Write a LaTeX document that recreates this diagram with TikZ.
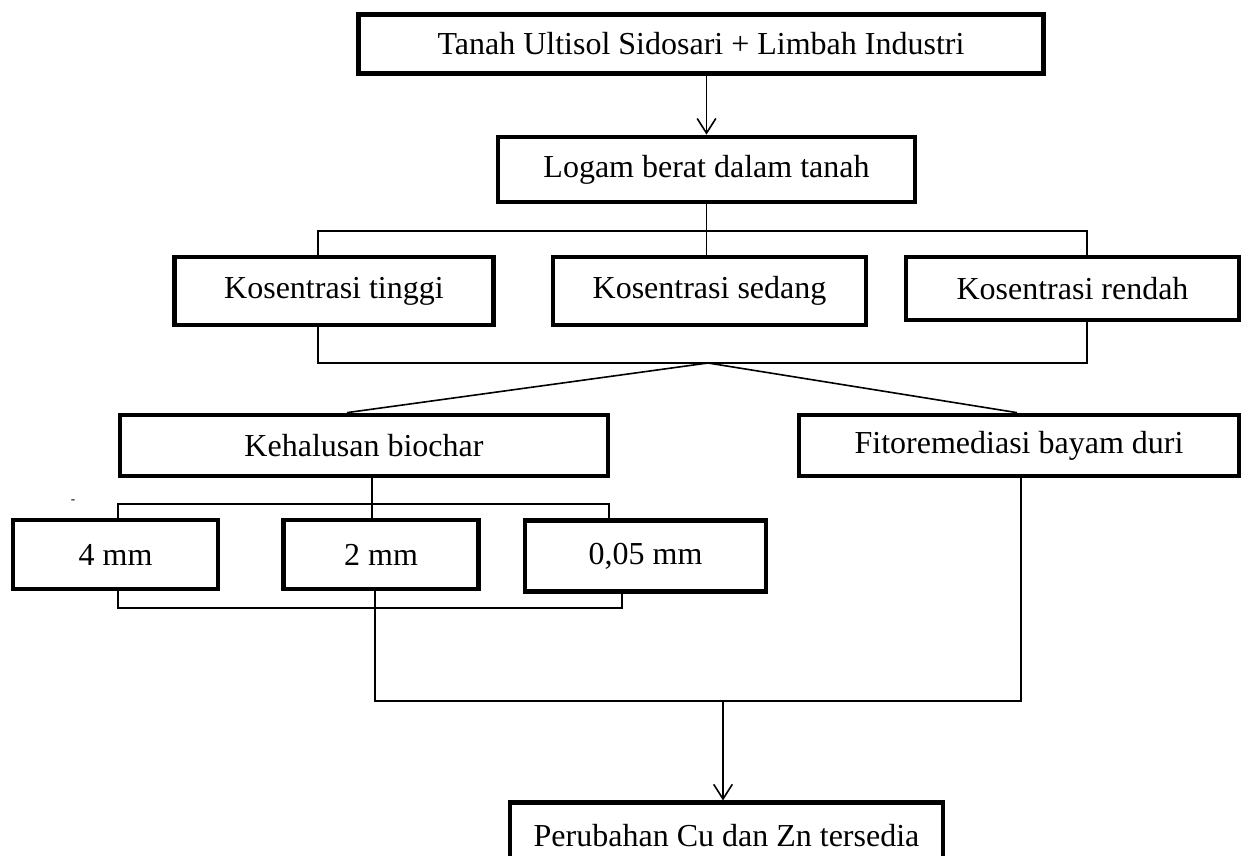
\documentclass[tikz,border=0pt]{standalone}
\usepackage{fontspec}
\setmainfont{Liberation Serif}
\usetikzlibrary{arrows.meta}

\begin{document}
\begin{tikzpicture}[x=0.75pt, y=-0.75pt,
  kotak/.style={draw, line width=3.3pt, inner sep=0pt, font=\fontsize{24}{29}\selectfont},
  garis/.style={line width=1.2pt},
  panah/.style={garis, -{Straight Barb[length=11pt, width=14pt]}}]
\useasboundingbox (0,0) rectangle (1242,856);
% kotak
\node [kotak, minimum width=514pt, minimum height=44pt] (tanah) at (701,44) {Tanah Ultisol Sidosari + Limbah Industri};
\node [kotak, minimum width=313pt, minimum height=49pt] (logam) at (706.5,169.5) {Logam berat dalam tanah};
\node [kotak, minimum width=239pt, minimum height=51pt] (tinggi) at (334,291) {Kosentrasi tinggi};
\node [kotak, minimum width=235pt, minimum height=51pt] (sedang) at (709.5,291) {Kosentrasi sedang};
\node [kotak, minimum width=250pt, minimum height=47pt] (rendah) at (1072.5,288.5) {Kosentrasi rendah};
\node [kotak, minimum width=366pt, minimum height=46pt] (biochar) at (364,445.5) {Kehalusan biochar};
\node [kotak, minimum width=330pt, minimum height=46pt] (fito) at (1019,445.5) {Fitoremediasi bayam duri};
\node [kotak, minimum width=154pt, minimum height=52pt] (empat) at (115.5,554.5) {4 mm};
\node [kotak, minimum width=146pt, minimum height=52pt] (dua) at (381,554.5) {2 mm};
\node [kotak, minimum width=181pt, minimum height=53pt] (halus) at (645.5,556) {0,05 mm};
\node [kotak, minimum width=325pt, minimum height=50pt] (hasil) at (726.5,836) {Perubahan Cu dan Zn tersedia};
\node [font=\fontsize{10}{12}\selectfont, inner sep=0pt] (titik) at (73,502) {-};
% titik sambung
\coordinate (a1) at (318,231); \coordinate (a2) at (1087,231);
\coordinate (b1) at (318,363); \coordinate (b2) at (1087,363); \coordinate (b0) at (708,363);
\coordinate (k1) at (347,0); \coordinate (k2) at (1017,0); \coordinate (k3) at (372,0);
\coordinate (c1) at (118,504); \coordinate (c2) at (609,504);
\coordinate (d1) at (118,608); \coordinate (d2) at (622,608);
\coordinate (e1) at (375,701); \coordinate (e2) at (1021,701); \coordinate (e0) at (723,701);
% garis
\draw [panah] (tanah.south -| logam.north) -- (logam.north);
\draw [garis] (logam.south) -- (logam.south |- sedang.north);
\draw [garis] (a1 |- tinggi.north) -- (a1) -- (a2) -- (a2 |- rendah.north);
\draw [garis] (b1 |- tinggi.south) -- (b1) -- (b2) -- (b2 |- rendah.south);
\draw [garis] (b0) -- (biochar.north -| k1);
\draw [garis] (b0) -- (fito.north -| k2);
\draw [garis] (biochar.south -| k3) -- (dua.north -| k3);
\draw [garis] (c1 |- empat.north) -- (c1) -- (c2) -- (c2 |- halus.north);
\draw [garis] (d1 |- empat.south) -- (d1) -- (d2) -- (d2 |- halus.south);
\draw [garis] (e1 |- dua.south) -- (e1) -- (e2) -- (e2 |- fito.south);
\draw [panah] (e0) -- (hasil.north -| e0);
\end{tikzpicture}
\end{document}
